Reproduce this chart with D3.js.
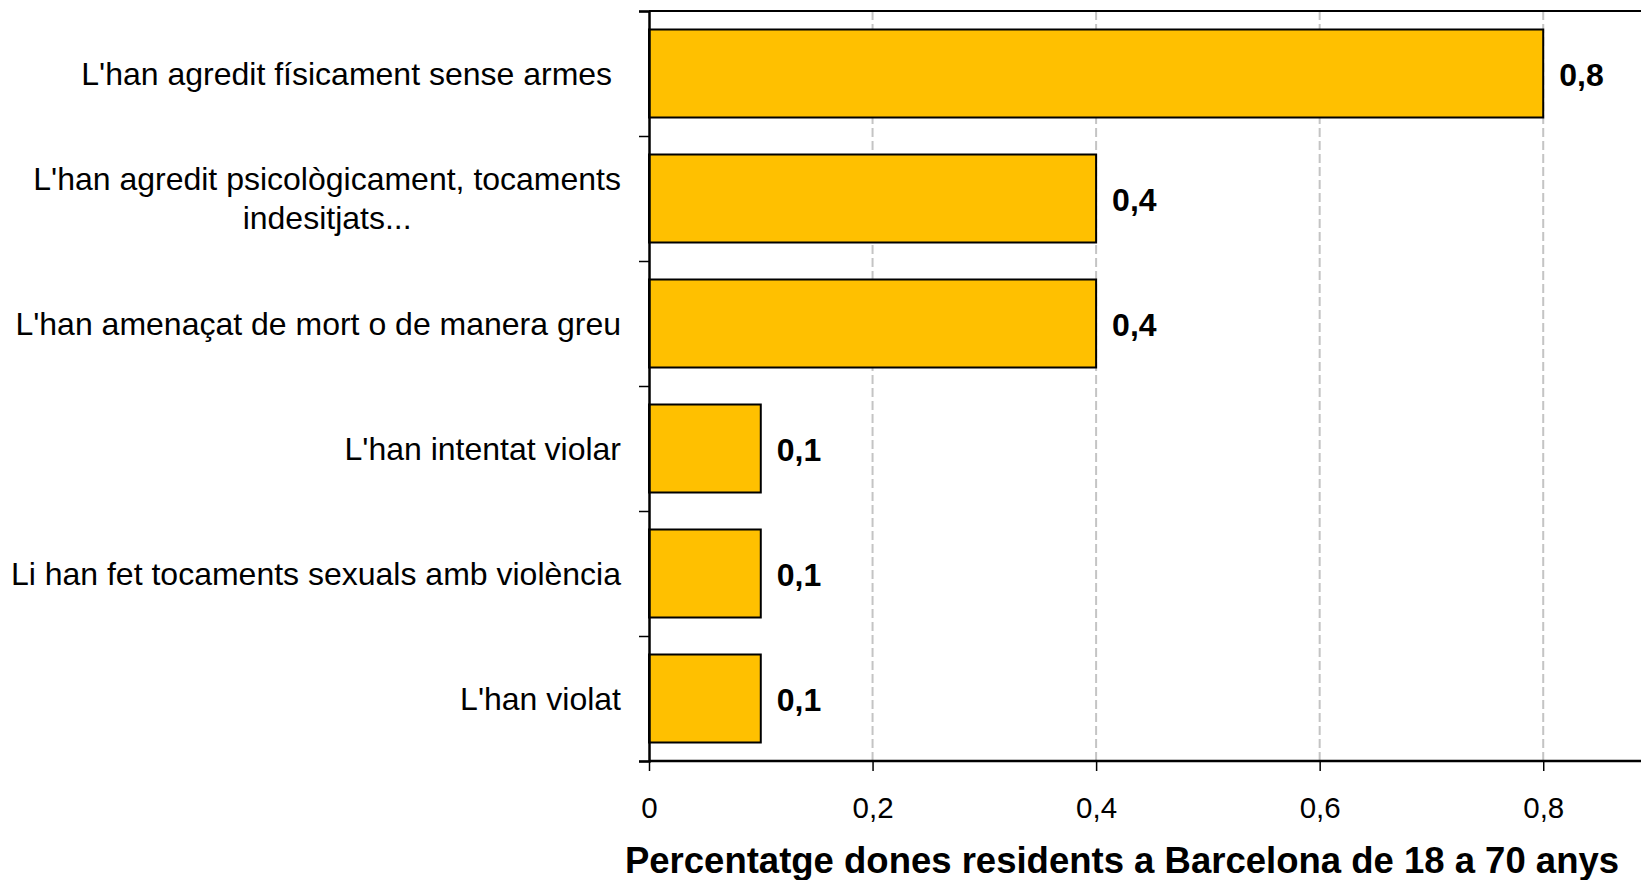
<!DOCTYPE html>
<html>
<head>
<meta charset="utf-8">
<script src="https://cdn.jsdelivr.net/npm/d3@7"></script>
<style>
  body { margin: 0; background: #fff; }
  text { font-family: "Liberation Sans", Arial, sans-serif; fill: #000; }
</style>
</head>
<body>
<svg id="chart" width="1641" height="880"></svg>
<script>
// categories, top to bottom (lines split where the label wraps)
const categories = [
  ["L'han agredit físicament sense armes "],
  ["L'han agredit psicològicament, tocaments", "indesitjats..."],
  ["L'han amenaçat de mort o de manera greu"],
  ["L'han intentat violar"],
  ["Li han fet tocaments sexuals amb violència"],
  ["L'han violat"]
]
const values = [0.8, 0.4, 0.4, 0.1, 0.1, 0.1]
const xTicks = [0, 0.2, 0.4, 0.6, 0.8]
const xTitle = "Percentatge dones residents a Barcelona de 18 a 70 anys"

const svg = d3.select("#chart")
const plotL = 649, plotR = 1655, plotT = 11, plotB = 761

const x = d3.scaleLinear().domain([0, 0.9]).range([plotL, plotR])
const y = d3.scaleBand()
  .domain(d3.range(categories.length))
  .range([plotT, plotB])
  .paddingInner(0.296)
  .paddingOuter(0.148)
const slot = d3.scaleLinear().domain([0, categories.length]).range([plotT, plotB])

const comma = d => d === 0 ? "0" : d3.format(".1f")(d).replace(".", ",")

// grid
svg.append("g")
  .selectAll("line")
  .data(xTicks.filter(d => d > 0))
  .join("line")
  .attr("x1", d => x(d)).attr("x2", d => x(d))
  .attr("y1", plotT).attr("y2", plotB)
  .attr("stroke", "#c4c4c4")
  .attr("stroke-width", 2)
  .attr("stroke-dasharray", "9,4")

// top border
svg.append("line")
  .attr("x1", plotL).attr("x2", plotR)
  .attr("y1", plotT).attr("y2", plotT)
  .attr("stroke", "#000").attr("stroke-width", 2)

// bars
svg.append("g")
  .selectAll("rect")
  .data(values)
  .join("rect")
  .attr("x", x(0))
  .attr("y", (d, i) => y(i))
  .attr("width", d => x(d) - x(0))
  .attr("height", y.bandwidth())
  .attr("fill", "#FFC000")
  .attr("stroke", "#000")
  .attr("stroke-width", 2)

// value labels
svg.append("g")
  .selectAll("text")
  .data(values)
  .join("text")
  .attr("x", d => x(d) + 16)
  .attr("y", (d, i) => y(i) + y.bandwidth() / 2)
  .attr("dy", "0.38em")
  .style("font-size", "32px")
  .style("font-weight", 700)
  .text(d => comma(d))

// y axis (ticks at slot boundaries)
const yAxis = svg.append("g")
  .attr("transform", `translate(${plotL},0)`)
  .call(d3.axisLeft(slot).ticks(categories.length).tickSize(10).tickFormat(""))
yAxis.select(".domain").attr("stroke-width", 2.5)
yAxis.selectAll(".tick line").attr("stroke-width", 1.5)

// category labels
const labels = svg.append("g")
  .selectAll("text")
  .data(categories)
  .join("text")
  .attr("xml:space", "preserve")
  .style("font-size", "32px")
  .attr("y", (d, i) => y(i) + y.bandwidth() / 2)

labels.each(function (lines) {
  const t = d3.select(this)
  const lh = 39
  const y0 = +t.attr("y") - (lines.length - 1) * lh / 2
  lines.forEach((line, k) => {
    t.append("tspan")
      .attr("y", y0 + k * lh)
      .attr("dy", "0.35em")
      .text(line)
  })
})
// right align the block, centre the lines inside it
labels.each(function () {
  const spans = d3.select(this).selectAll("tspan").nodes()
  const widths = spans.map(s => s.getComputedTextLength())
  const w = d3.max(widths)
  const rightEdge = 621
  spans.forEach((s, k) => {
    d3.select(s).attr("x", rightEdge - w + (w - widths[k]) / 2)
  })
})

// x axis
const xAxis = svg.append("g")
  .attr("transform", `translate(0,${plotB})`)
  .call(d3.axisBottom(x).tickValues(xTicks).tickSize(10).tickFormat(comma))
xAxis.select(".domain").attr("stroke-width", 2.5).attr("d", `M${plotL},0H${plotR}`)
xAxis.selectAll(".tick line").attr("stroke-width", 1.5)
xAxis.selectAll(".tick text")
  .attr("y", 57).attr("dy", 0)
  .style("font-size", "29.5px")
  .style("font-family", "Liberation Sans, Arial, sans-serif")

// axis title
svg.append("text")
  .attr("x", 1122)
  .attr("y", 873)
  .attr("text-anchor", "middle")
  .style("font-size", "36.5px")
  .style("font-weight", 700)
  .text(xTitle)
</script>
</body>
</html>
